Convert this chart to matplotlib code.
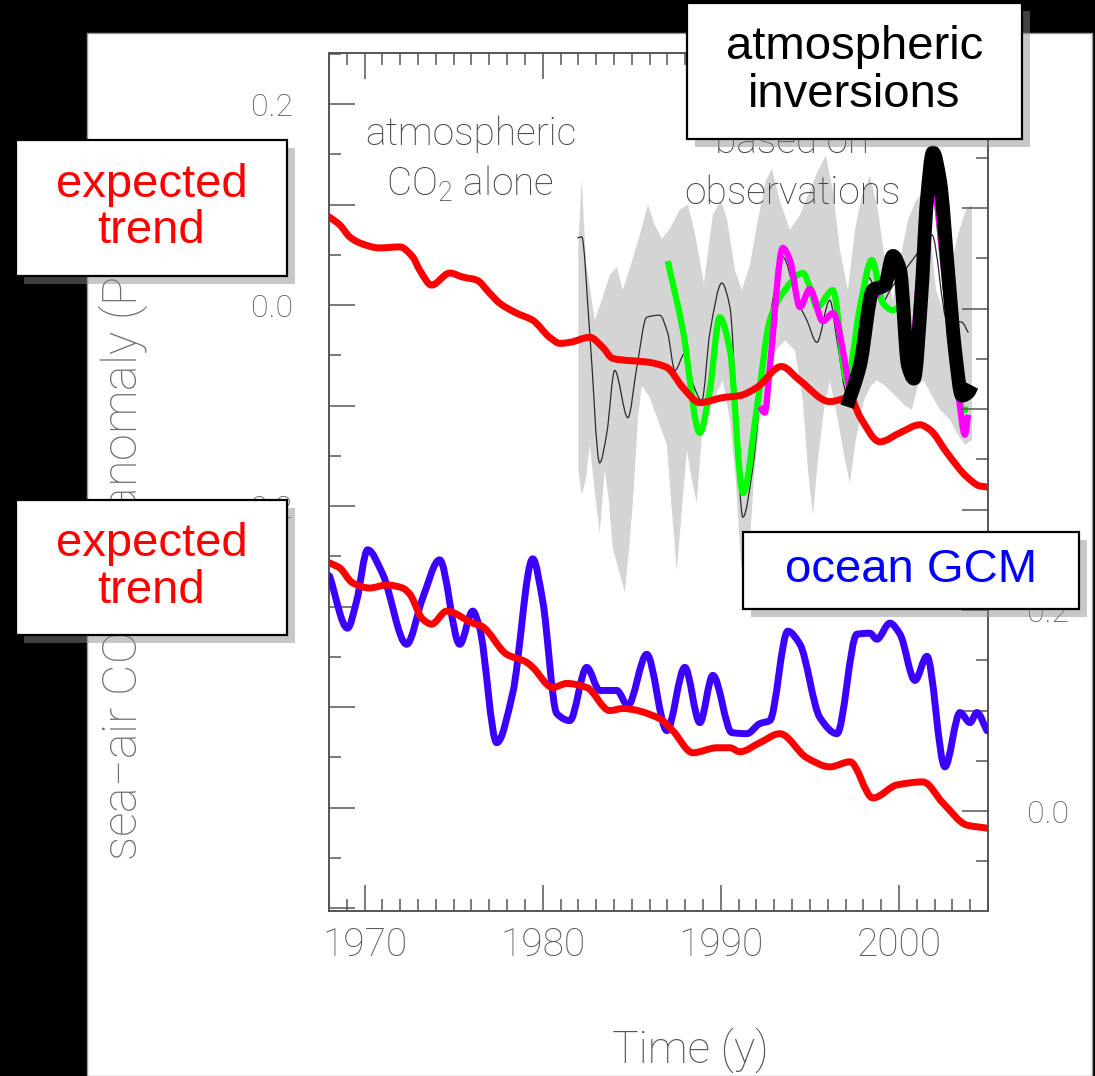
import numpy as np
import matplotlib
matplotlib.use("Agg")
import matplotlib.pyplot as plt
from matplotlib.patches import Rectangle, PathPatch
from matplotlib.path import Path
from matplotlib.ticker import MultipleLocator, FuncFormatter

plt.rcParams['font.family'] = ['Roboto', 'DejaVu Sans']
plt.rcParams['mathtext.fontset'] = 'custom'
plt.rcParams['mathtext.rm'] = 'Roboto:light'
plt.rcParams['mathtext.default'] = 'rm'

# ---------------- data ----------------
# upper panel (left axis): expected trend from atmospheric CO2 alone
trend_atm_years = [1968.0, 1968.6, 1969.16, 1969.72, 1970.84, 1971.97, 1972.70, 1973.09, 1973.76,
                   1974.78, 1975.51, 1976.29, 1977.02, 1977.58, 1978.54, 1979.44, 1980.39, 1980.96,
                   1981.52, 1982.64, 1983.37, 1983.93, 1986.01, 1986.97, 1987.87, 1988.82, 1990.11,
                   1991.07, 1992.02, 1993.4, 1994.44, 1996.12, 1997.25, 1997.81, 1998.93, 2000.06,
                   2001.18, 2001.74, 2002.70, 2003.82, 2004.55, 2005.0]
trend_atm_vals = [0.088, 0.080, 0.068, 0.062, 0.057, 0.058, 0.048, 0.035, 0.020,
                  0.032, 0.028, 0.025, 0.012, 0.002, -0.008, -0.015, -0.032, -0.038,
                  -0.037, -0.032, -0.042, -0.053, -0.057, -0.062, -0.082, -0.097, -0.092,
                  -0.090, -0.082, -0.061, -0.075, -0.096, -0.092, -0.111, -0.136, -0.127,
                  -0.119, -0.124, -0.147, -0.171, -0.180, -0.181]

# uncertainty band of the inversions (upper and lower envelopes)
band_up_years = [1982.0, 1982.19, 1982.42, 1982.92, 1983.37, 1983.76, 1984.16, 1984.49, 1985.0,
                 1985.45, 1985.90, 1986.29, 1986.69, 1987.13, 1987.70, 1988.15, 1988.54, 1989.05,
                 1989.55, 1990.0, 1990.34, 1990.79, 1991.18, 1991.63, 1992.08, 1992.53, 1992.87,
                 1993.31, 1993.88, 1994.44, 1995.00, 1995.45, 1995.90, 1996.29, 1996.69, 1997.13,
                 1997.53, 1997.92, 1998.37, 1998.82, 1999.21, 1999.66, 2000.06, 2000.51, 2000.96,
                 2001.40, 2001.74, 2002.08, 2002.47, 2002.87, 2003.31, 2003.76, 2004.10]
band_up_vals = [0.060, 0.126, 0.045, -0.015, 0.008, 0.030, 0.038, 0.015, 0.043,
                0.070, 0.100, 0.080, 0.066, 0.076, 0.095, 0.100, 0.072, 0.022,
                0.090, 0.104, 0.086, 0.035, 0.015, 0.040, 0.085, 0.124, 0.136,
                0.104, 0.075, 0.090, 0.114, 0.134, 0.149, 0.114, 0.055, 0.015,
                0.075, 0.109, 0.129, 0.095, 0.045, 0.005, 0.045, 0.085, 0.104,
                0.114, 0.075, 0.015, -0.005, 0.035, 0.070, 0.095, 0.100]
band_lo_years = [1982.0, 1982.19, 1982.42, 1982.64, 1982.98, 1983.20, 1983.48, 1983.71, 1983.93,
                 1984.27, 1984.61, 1984.89, 1985.11, 1985.34, 1985.56, 1986.01, 1986.46, 1986.97,
                 1987.25, 1987.53, 1987.81, 1988.09, 1988.37, 1988.65, 1988.93, 1989.38, 1989.83,
                 1990.11, 1990.51, 1990.84, 1991.12, 1991.35, 1991.57, 1991.85, 1992.19, 1992.64,
                 1993.09, 1993.60, 1994.16, 1994.61, 1994.89, 1995.17, 1995.45, 1995.79, 1996.12,
                 1996.57, 1996.97, 1997.25, 1997.58, 1998.03, 1998.43, 1998.76, 1999.21, 1999.78,
                 2000.34, 2000.73, 2001.07, 2001.40, 2001.85, 2002.30, 2002.87, 2003.31, 2003.71,
                 2004.10]
band_lo_vals = [-0.164, -0.189, -0.174, -0.139, -0.194, -0.227, -0.164, -0.194, -0.241,
                -0.264, -0.286, -0.234, -0.184, -0.114, -0.080, -0.092, -0.114, -0.139,
                -0.204, -0.264, -0.204, -0.144, -0.174, -0.197, -0.131, -0.104, -0.085,
                -0.075, -0.114, -0.174, -0.254, -0.289, -0.254, -0.174, -0.114, -0.080,
                -0.045, -0.035, -0.045, -0.095, -0.164, -0.209, -0.154, -0.104, -0.075,
                -0.114, -0.154, -0.177, -0.134, -0.095, -0.080, -0.075, -0.080, -0.090,
                -0.100, -0.104, -0.080, -0.075, -0.090, -0.104, -0.114, -0.129, -0.139,
                -0.134]

# thin black: inversion mean
inv_mean_years = [1981.97, 1982.19, 1982.64, 1983.20, 1983.60, 1984.04, 1984.78, 1985.28, 1985.84,
                  1986.57, 1987.02, 1987.42, 1987.98, 1988.43, 1988.93, 1989.38, 1990.06, 1990.51,
                  1991.24, 1991.80, 1992.36, 1992.92, 1993.48, 1994.27, 1994.83, 1995.39, 1996.12,
                  1996.52, 1997.08, 1997.70, 1998.26, 1999.04, 1999.61, 2000.34, 2001.18, 2001.85,
                  2002.70, 2003.54, 2003.88]
inv_mean_vals = [0.067, 0.068, -0.028, -0.157, -0.127, -0.065, -0.112, -0.062, -0.012,
                 -0.010, -0.028, -0.065, -0.048, -0.078, -0.095, -0.028, 0.022, -0.002,
                 -0.211, -0.161, -0.062, 0.005, 0.048, 0.005, -0.015, -0.037, 0.005,
                 -0.035, -0.088, -0.025, 0.028, 0.003, 0.018, 0.035, 0.055, 0.070,
                 -0.015, -0.017, -0.027]

# green inversion
inv_green_years = [1987.02, 1987.87, 1988.82, 1989.38, 1989.94, 1990.51, 1991.24, 1992.08, 1992.75,
                   1993.48, 1994.61, 1995.00, 1995.39, 1996.29, 1997.08, 1997.81, 1998.48, 1999.10,
                   1999.66, 2000.20, 2000.62, 2001.46, 2001.91, 2002.58, 2003.15, 2003.60, 2003.88]
inv_green_vals = [0.044, -0.025, -0.127, -0.085, -0.012, -0.045, -0.187, -0.095, -0.015,
                  0.012, 0.032, 0.018, -0.002, 0.015, -0.075, -0.002, 0.045, 0.002,
                  -0.005, 0.0, -0.055, 0.075, 0.119, 0.025, -0.065, -0.104, -0.104]

# magenta inversion
inv_mag_years = [1992.19, 1992.47, 1992.75, 1993.48, 1993.88, 1994.44, 1995.00, 1995.73, 1996.29,
                 1997.08, 1997.25, 1997.92, 1998.54, 1999.10, 1999.49, 1999.89, 2000.62, 2001.29,
                 2001.91, 2002.70, 2003.31, 2003.71, 2003.88]
inv_mag_vals = [-0.101, -0.107, -0.062, 0.057, 0.045, -0.002, 0.016, -0.016, -0.008,
                -0.068, -0.087, -0.055, 0.005, 0.017, 0.033, 0.043, -0.055, 0.055,
                0.117, 0.005, -0.085, -0.129, -0.109]

# thick black inversion
inv_black_years = [1997.08, 1997.81, 1998.54, 1999.21, 1999.66, 2000.06, 2000.51, 2000.84, 2001.24,
                   2001.57, 2001.91, 2002.30, 2002.75, 2003.15, 2003.54, 2003.88, 2004.10]
inv_black_vals = [-0.101, -0.060, 0.015, 0.020, 0.049, 0.035, -0.060, -0.073, 0.005,
                  0.104, 0.152, 0.124, 0.035, -0.045, -0.090, -0.087, -0.080]

# lower panel (right axis): ocean GCM and its expected trend
ocean_years = [1968.03, 1969.04, 1969.55, 1970.17, 1971.01, 1972.36, 1973.26, 1974.21, 1975.34,
               1976.07, 1976.46, 1977.42, 1978.31, 1979.44, 1980.00, 1980.79, 1981.52, 1982.47,
               1983.20, 1984.16, 1984.78, 1985.84, 1986.97, 1987.98, 1988.82, 1989.55, 1990.62,
               1991.46, 1992.19, 1992.75, 1993.76, 1994.44, 1995.56, 1996.52, 1997.64, 1998.37,
               1998.76, 1999.49, 2000.06, 2000.90, 2001.57, 2002.58, 2003.43, 2003.99, 2004.38,
               2004.94]
ocean_vals = [0.234, 0.182, 0.209, 0.260, 0.236, 0.166, 0.212, 0.250, 0.166,
              0.199, 0.182, 0.068, 0.117, 0.251, 0.209, 0.097, 0.090, 0.143,
              0.120, 0.120, 0.105, 0.156, 0.080, 0.143, 0.088, 0.135, 0.078,
              0.077, 0.087, 0.090, 0.179, 0.166, 0.093, 0.077, 0.176, 0.177,
              0.171, 0.187, 0.176, 0.130, 0.154, 0.044, 0.098, 0.088, 0.098,
              0.080]
trend_ocean_years = [1968.03, 1968.60, 1969.33, 1970.28, 1971.24, 1972.13, 1972.53, 1973.26, 1973.76,
                     1974.61, 1976.07, 1976.57, 1977.98, 1979.10, 1979.44, 1980.56, 1981.35, 1982.47,
                     1983.76, 1984.49, 1986.57, 1987.30, 1988.43, 1989.78, 1990.51, 1991.07, 1992.19,
                     1993.31, 1994.83, 1996.12, 1997.25, 1998.54, 1999.89, 2001.35, 2002.47, 2003.82,
                     2004.94]
trend_ocean_vals = [0.247, 0.242, 0.227, 0.222, 0.225, 0.222, 0.216, 0.191, 0.186,
                    0.199, 0.187, 0.184, 0.156, 0.148, 0.143, 0.123, 0.127, 0.123,
                    0.100, 0.102, 0.092, 0.080, 0.058, 0.063, 0.063, 0.059, 0.068,
                    0.077, 0.053, 0.044, 0.049, 0.013, 0.026, 0.029, 0.008, -0.014,
                    -0.017]

year_ticks = [1970, 1980, 1990, 2000]
left_labels = [0.2, 0.0, -0.2]
right_labels = [0.0, 0.2]


# smooth drawing of a polyline through the read points (cubic Bezier segments,
# shape-preserving tangents so peaks stay at the read values)
def smooth_path(xs, ys):
    x = np.asarray(xs, float)
    y = np.asarray(ys, float)
    n = len(x)
    h = np.diff(x)
    d = np.diff(y) / h
    m = np.zeros(n)
    for i in range(1, n - 1):
        if d[i - 1] * d[i] > 0:
            w1 = 2 * h[i] + h[i - 1]
            w2 = h[i] + 2 * h[i - 1]
            m[i] = (w1 + w2) / (w1 / d[i - 1] + w2 / d[i])
    m[0] = d[0]
    m[-1] = d[-1]
    verts = [(x[0], y[0])]
    codes = [Path.MOVETO]
    for i in range(n - 1):
        verts += [(x[i] + h[i] / 3, y[i] + m[i] * h[i] / 3),
                  (x[i + 1] - h[i] / 3, y[i + 1] - m[i + 1] * h[i] / 3),
                  (x[i + 1], y[i + 1])]
        codes += [Path.CURVE4] * 3
    return Path(verts, codes)


def smooth_line(a, xs, ys, color, lw, z, cap='round'):
    a.add_patch(PathPatch(smooth_path(xs, ys), fill=False, edgecolor=color, lw=lw,
                          zorder=z, capstyle=cap, joinstyle='round'))


# ---------------- figure ----------------
W, H = 1095, 1076
fig = plt.figure(figsize=(W / 100, H / 100), dpi=100, facecolor='black')


def fx(px):
    return px / W


def fy(py):
    return 1 - py / H


# white panel
fig.patches.append(Rectangle((fx(87), 0), fx(1092) - fx(87), fy(33), transform=fig.transFigure,
                             facecolor='white', edgecolor='#9a9a9a', lw=1, zorder=-5))

ax = fig.add_axes([fx(329), fy(911), fx(988) - fx(329), fy(53) - fy(911)])
ax.set_facecolor('white')
ax2 = ax.twinx()

grey = '#555555'
lab_grey = '#5a5a5a'
TXT_W = 'light'

ax.set_xlim(1968.0, 2005.0)
ax.set_ylim(-0.603, 0.251)
ax2.set_ylim(-0.0995, 0.7545)

# gray band + inversion curves
band_x = np.concatenate([band_up_years, band_lo_years[::-1]])
band_y = np.concatenate([band_up_vals, band_lo_vals[::-1]])
ax.fill(band_x, band_y, color='#d4d4d4', lw=0, zorder=1)
smooth_line(ax, inv_mean_years, inv_mean_vals, '#2a2a2a', 0.9, 2)
smooth_line(ax, inv_green_years, inv_green_vals, '#00ff00', 4.5, 3, cap='butt')
smooth_line(ax, inv_mag_years, inv_mag_vals, '#ff00ff', 4.5, 4, cap='butt')
smooth_line(ax, trend_atm_years, trend_atm_vals, '#ff0000', 5, 5)
smooth_line(ax, inv_black_years, inv_black_vals, 'black', 10, 6, cap='butt')

smooth_line(ax2, ocean_years, ocean_vals, '#3c00ff', 5, 3)
smooth_line(ax2, trend_ocean_years, trend_ocean_vals, '#ff0000', 5, 4)

# axes styling
for a in (ax, ax2):
    for s in a.spines.values():
        s.set_color(grey)
        s.set_linewidth(1.2)

ax.xaxis.set_minor_locator(MultipleLocator(1))
ax.set_xticks(year_ticks)
ax.xaxis.set_major_formatter(FuncFormatter(lambda v, p: f'{int(round(v))}'))
ax.yaxis.set_major_locator(MultipleLocator(0.1))
ax.yaxis.set_minor_locator(MultipleLocator(0.05))
ax2.yaxis.set_major_locator(MultipleLocator(0.1))
ax2.yaxis.set_minor_locator(MultipleLocator(0.05))


def make_fmt(keep):
    def f(v, p):
        for k in keep:
            if abs(v - k) < 1e-6:
                return '0.0' if abs(k) < 1e-9 else f'{k:.1f}'
        return ''
    return FuncFormatter(f)


ax.yaxis.set_major_formatter(make_fmt(left_labels))
ax2.yaxis.set_major_formatter(make_fmt(right_labels))

ax.tick_params(axis='x', which='both', direction='in', top=True, bottom=True, colors=grey,
               labelcolor=lab_grey, width=1.1)
ax.tick_params(axis='x', which='major', length=19, labelsize=28, pad=11)
ax.tick_params(axis='x', which='minor', length=8.5)
ax.tick_params(axis='y', which='both', direction='in', left=True, right=False, colors=grey,
               labelcolor=lab_grey, width=1.1)
ax.tick_params(axis='y', which='major', length=19, labelsize=23, pad=26)
ax.tick_params(axis='y', which='minor', length=8.5)
ax2.tick_params(axis='y', which='both', direction='in', right=True, left=False, colors=grey,
                labelcolor=lab_grey, width=1.1)
ax2.tick_params(axis='y', which='major', length=19, labelsize=23, pad=28)
ax2.tick_params(axis='y', which='minor', length=8.5)
for lab in ax.get_xticklabels() + ax.get_yticklabels() + ax2.get_yticklabels():
    lab.set_fontweight(TXT_W)

# annotations inside the axes
ann_kw = dict(transform=ax.transAxes, ha='center', va='baseline', fontsize=28,
              fontweight=TXT_W, color='#444444', zorder=7)
ax.text((471 - 329) / 659, (911 - 145) / 858, 'atmospheric', **ann_kw)
ax.text((470 - 329) / 659, (911 - 196) / 858, 'CO$_2$ alone', **ann_kw)
ax.text((792 - 329) / 659, (911 - 153) / 858, 'based on', **ann_kw)
ax.text((792 - 329) / 659, (911 - 204) / 858, 'observations', **ann_kw)

# axis titles
fig.text(fx(123), fy(512), 'sea\u2212air CO$_2$ flux anomaly (PgC/y)', rotation=90,
         ha='center', va='center', fontsize=35, fontweight=TXT_W, color='#6e6e6e')
fig.text(fx(690), fy(1063), 'Time (y)', ha='center', va='baseline', fontsize=32,
         fontweight=TXT_W, color='#555555')


# label boxes with drop shadows
def box(x0, y0, x1, y1, text, color, ls):
    sh = 8
    fig.patches.append(Rectangle((fx(x0 + sh), fy(y1 + sh)), fx(x1) - fx(x0), fy(y0) - fy(y1),
                                 transform=fig.transFigure, facecolor='#898989', alpha=0.47,
                                 lw=0, zorder=10))
    fig.patches.append(Rectangle((fx(x0), fy(y1)), fx(x1) - fx(x0), fy(y0) - fy(y1),
                                 transform=fig.transFigure, facecolor='white',
                                 edgecolor='black', lw=1.6, zorder=11))
    fig.text(fx((x0 + x1) / 2), fy((y0 + y1) / 2), text, ha='center', va='center',
             fontsize=34, color=color, family=['Liberation Sans', 'DejaVu Sans'],
             linespacing=ls, zorder=12)


box(16, 140, 287, 276, 'expected\ntrend', '#ff0000', 1.08)
box(16, 500, 287, 635, 'expected\ntrend', '#ff0000', 1.08)
box(687, 3, 1022, 139, 'atmospheric\ninversions', 'black', 1.12)
box(743, 532, 1079, 609, 'ocean GCM', '#0000ff', 1.0)

fig.savefig('out.png', dpi=100, facecolor='black')
